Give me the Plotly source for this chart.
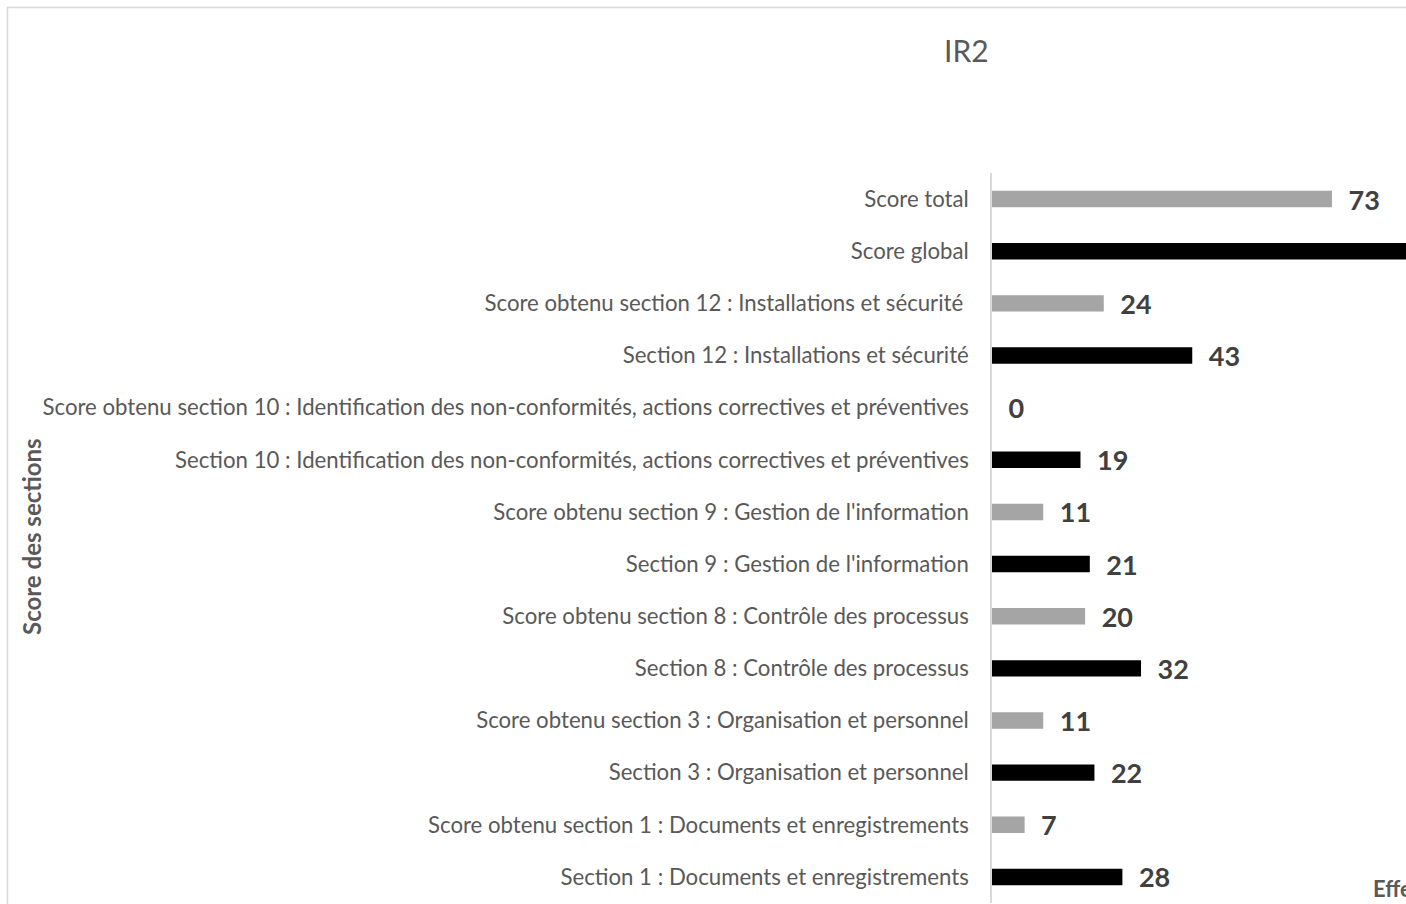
import plotly.graph_objects as go

# Category order, bottom to top
categories = [
    "Section 1 : Documents et enregistrements",
    "Score obtenu section 1 : Documents et enregistrements",
    "Section 3 : Organisation et personnel",
    "Score obtenu section 3 : Organisation et personnel",
    "Section 8 : Contrôle des processus",
    "Score obtenu section 8 : Contrôle des processus",
    "Section 9 : Gestion de l'information",
    "Score obtenu section 9 : Gestion de l'information",
    "Section 10 : Identification des non-conformités, actions correctives et préventives",
    "Score obtenu section 10 : Identification des non-conformités, actions correctives et préventives",
    "Section 12 : Installations et sécurité",
    "Score obtenu section 12 : Installations et sécurité\u00a0",
    "Score global",
    "Score total",
]

max_labels = [
    "Section 1 : Documents et enregistrements",
    "Section 3 : Organisation et personnel",
    "Section 8 : Contrôle des processus",
    "Section 9 : Gestion de l'information",
    "Section 10 : Identification des non-conformités, actions correctives et préventives",
    "Section 12 : Installations et sécurité",
    "Score global",
]
max_values = [28, 22, 32, 21, 19, 43, 165]

obt_labels = [
    "Score obtenu section 1 : Documents et enregistrements",
    "Score obtenu section 3 : Organisation et personnel",
    "Score obtenu section 8 : Contrôle des processus",
    "Score obtenu section 9 : Gestion de l'information",
    "Score obtenu section 10 : Identification des non-conformités, actions correctives et préventives",
    "Score obtenu section 12 : Installations et sécurité\u00a0",
    "Score total",
]
obt_values = [7, 11, 20, 11, 0, 24, 73]

W, H = 1406, 904
L, R, T, B = 992, 0, 173, 1
XMAX = 88.9

FONT = "Lato, Open Sans, sans-serif"
label_font = dict(family=FONT, size=27, color="#404040", weight="bold")

fig = go.Figure()
fig.add_trace(go.Bar(
    y=max_labels, x=max_values, orientation="h",
    marker=dict(color="#000000", line=dict(width=0)),
    text=[f"\u2002{v}" for v in max_values],
    textposition=["outside"] * (len(max_values) - 1) + ["none"],
    textfont=label_font, cliponaxis=False, constraintext="none",
    name="Maximum",
))
fig.add_trace(go.Bar(
    y=obt_labels, x=obt_values, orientation="h",
    marker=dict(color="#A5A5A5", line=dict(width=0)),
    text=[f"\u2002{v}" for v in obt_values],
    textposition="outside",
    textfont=label_font, cliponaxis=False, constraintext="none",
    name="Obtenu",
))

pw = W - L - R
ph = H - T - B

def px_x(p):
    return (p - L) / pw

def px_y(p):
    return (H - B - p) / ph

fig.update_layout(
    width=W, height=H,
    margin=dict(l=L, r=R, t=T, b=B, pad=0),
    barmode="overlay", bargap=0.685,
    plot_bgcolor="white", paper_bgcolor="white",
    showlegend=False,
    font=dict(family=FONT, color="#595959"),
    xaxis=dict(range=[0, XMAX], showticklabels=False, showgrid=False,
               zeroline=False, showline=False, ticks=""),
    yaxis=dict(type="category", categoryorder="array", categoryarray=categories,
               range=[-0.5, len(categories) - 0.5],
               showgrid=False, zeroline=False, showline=True,
               linecolor="#D9D9D9", linewidth=1.5, ticks="",
               ticklabelstandoff=17,
               tickfont=dict(family=FONT, size=22.2, color="#595959")),
    shapes=[
        dict(type="line", xref="paper", yref="paper",
             x0=px_x(7), x1=px_x(1500), y0=px_y(7.5), y1=px_y(7.5),
             line=dict(color="#D9D9D9", width=1.5)),
        dict(type="line", xref="paper", yref="paper",
             x0=px_x(7.5), x1=px_x(7.5), y0=px_y(7), y1=px_y(1000),
             line=dict(color="#D9D9D9", width=1.5)),
    ],
    annotations=[
        dict(text="IR2", xref="paper", yref="paper", x=px_x(966), y=px_y(50),
             xanchor="center", yanchor="middle", showarrow=False,
             font=dict(size=30, color="#595959")),
        dict(text="<b>Score des sections</b>", xref="paper", yref="paper",
             x=px_x(31), y=px_y(537), textangle=-90,
             xanchor="center", yanchor="middle", showarrow=False,
             font=dict(size=24, color="#595959")),
        dict(text="<b>Effectif</b>", xref="paper", yref="paper",
             x=px_x(1371), y=px_y(888), xanchor="left", yanchor="middle",
             showarrow=False, font=dict(size=22, color="#595959")),
    ],
)

fig.write_html("out.html")
